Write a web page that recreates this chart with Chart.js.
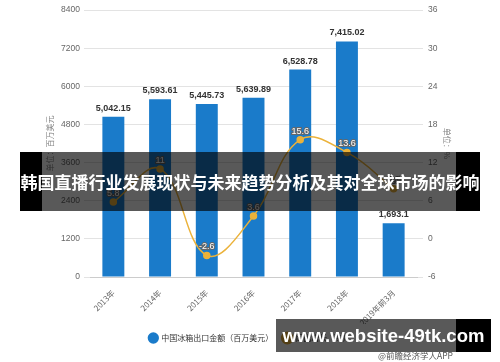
<!DOCTYPE html>
<html>
<head>
<meta charset="utf-8">
<script src="https://cdn.jsdelivr.net/npm/chart.js@4"></script>
<style>
  body { margin: 0; background: #fff; }
  #wrap { position: relative; width: 500px; height: 362px; overflow: hidden; }
  #grafico { position: absolute; left: 0; top: 0; }
  .banner {
    position: absolute; left: 20px; top: 152px; width: 460px; height: 59px;
    background: linear-gradient(to right, #000 0, #000 22px, rgba(0,0,0,0.65) 22px, rgba(0,0,0,0.65) 436px, #000 436px);
    color: #fff; font: bold 17px "Noto Sans CJK SC", sans-serif;
    line-height: 59px; text-align: center; white-space: nowrap;
  }
  .marca {
    position: absolute; left: 276px; top: 319px; width: 215px; height: 33px;
    background: linear-gradient(to right, rgba(0,0,0,0.65) 0, rgba(0,0,0,0.65) 180px, #000 180px);
    color: #fff; font: bold 18.5px "Liberation Sans", Arial, sans-serif;
    line-height: 33px; text-align: center; white-space: nowrap;
  }
  .fuente {
    position: absolute; left: 378px; top: 349px;
    color: #555; font: 8.5px "Noto Sans CJK SC", sans-serif; white-space: nowrap;
  }
</style>
</head>
<body>
<div id="wrap">
  <canvas id="grafico" width="500" height="362"></canvas>
  <div class="banner">韩国直播行业发展现状与未来趋势分析及其对全球市场的影响</div>
  <div class="marca">www.website-49tk.com</div>
  <div class="fuente">@前瞻经济学人APP</div>
</div>
<script>
const categorias = ["2013年", "2014年", "2015年", "2016年", "2017年", "2018年", "2019年前3月"];
const exportaciones = [5042.15, 5593.61, 5445.73, 5639.89, 6528.78, 7415.02, 1693.1];
const crecimiento = [5.8, 11, -2.6, 3.6, 15.6, 13.6, 7.9];
const ticksIzq = [0, 1200, 2400, 3600, 4800, 6000, 7200, 8400];
const ticksDer = [-6, 0, 6, 12, 18, 24, 30, 36];

const azul = "#1a7bca";
const dorado = "#ebb23a";
const fuenteCJK = '"Noto Sans CJK SC", sans-serif';

// Etiquetas de valores sobre barras y puntos
const etiquetas = {
  id: "etiquetas",
  afterDatasetsDraw(chart) {
    const ctx = chart.ctx;
    ctx.save();
    ctx.textAlign = "center";
    ctx.textBaseline = "bottom";

    const barras = chart.getDatasetMeta(0);
    ctx.font = 'bold 9px "Liberation Sans", Arial, sans-serif';
    ctx.fillStyle = "#333";
    barras.data.forEach((el, i) => {
      const txt = exportaciones[i].toLocaleString("en-US", { maximumFractionDigits: 2 });
      ctx.fillText(txt, el.x, el.y - 4);
    });

    const linea = chart.getDatasetMeta(1);
    ctx.font = '9px "Liberation Sans", Arial, sans-serif';
    ctx.lineWidth = 2;
    ctx.strokeStyle = "#666";
    ctx.fillStyle = "#fff";
    linea.data.forEach((el, i) => {
      const txt = String(crecimiento[i]);
      ctx.strokeText(txt, el.x, el.y - 4);
      ctx.fillText(txt, el.x, el.y - 4);
    });
    ctx.restore();
  }
};

const ctx = document.getElementById("grafico").getContext("2d");
new Chart(ctx, {
  data: {
    labels: categorias,
    datasets: [
      {
        type: "bar",
        label: "中国冰箱出口金额（百万美元）",
        data: exportaciones,
        backgroundColor: azul,
        yAxisID: "y",
        barPercentage: 0.47,
        categoryPercentage: 1,
        order: 2
      },
      {
        type: "line",
        label: "同比增长（%）",
        data: crecimiento,
        borderColor: dorado,
        backgroundColor: dorado,
        borderWidth: 1.5,
        pointRadius: 3,
        pointBackgroundColor: dorado,
        pointBorderColor: dorado,
        tension: 0.4,
        yAxisID: "y1",
        order: 1
      }
    ]
  },
  options: {
    responsive: false,
    animation: false,
    layout: { padding: { top: 8, bottom: 10, left: 0, right: 0 } },
    plugins: {
      tooltip: { enabled: false },
      legend: {
        position: "bottom",
        labels: {
          usePointStyle: true,
          pointStyle: "circle",
          boxWidth: 8,
          boxHeight: 8,
          padding: 10,
          color: "#333",
          font: { size: 8, family: fuenteCJK },
          sort: (a, b) => a.datasetIndex - b.datasetIndex
        }
      }
    },
    scales: {
      x: {
        grid: { display: false, drawTicks: true },
        border: { color: "#ccc" },
        ticks: {
          minRotation: 45,
          maxRotation: 45,
          color: "#666",
          font: { size: 8, family: fuenteCJK }
        },
        afterFit(scale) { scale.height = 47; }
      },
      y: {
        position: "left",
        min: 0,
        max: 8400,
        afterBuildTicks(scale) { scale.ticks = ticksIzq.map(v => ({ value: v })); },
        grid: { color: "#e3e3e3", tickLength: 6 },
        border: { display: false },
        ticks: {
          padding: 4,
          color: "#666",
          font: { size: 8.5, family: '"Liberation Sans", Arial, sans-serif' },
          callback: v => String(v)
        },
        title: {
          display: true,
          text: "单位：百万美元",
          color: "#888",
          font: { size: 8, family: fuenteCJK },
          padding: { top: 45, bottom: 0 }
        },
        afterFit(scale) { scale.width = 90; }
      },
      y1: {
        position: "right",
        min: -6,
        max: 36,
        afterBuildTicks(scale) { scale.ticks = ticksDer.map(v => ({ value: v })); },
        grid: { drawOnChartArea: false, color: "#e3e3e3", tickLength: 6 },
        border: { display: false },
        ticks: {
          padding: 5,
          color: "#666",
          font: { size: 8.5, family: '"Liberation Sans", Arial, sans-serif' },
          callback: v => String(v)
        },
        title: {
          display: true,
          text: "单位：%",
          color: "#888",
          font: { size: 8, family: fuenteCJK },
          padding: { top: 48, bottom: 0 }
        },
        afterFit(scale) { scale.width = 83; }
      }
    }
  },
  plugins: [etiquetas]
});
</script>
</body>
</html>
